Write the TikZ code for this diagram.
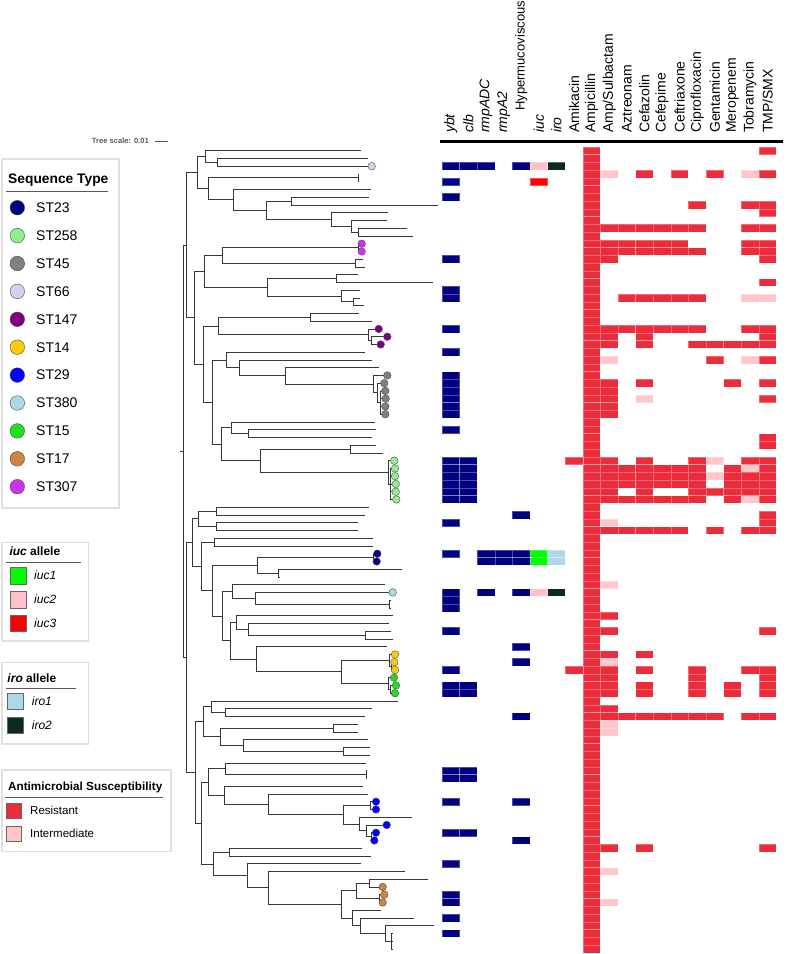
\documentclass[tikz,border=0pt]{standalone}
\usepackage{fontspec}
\setmainfont{Liberation Sans}
\usetikzlibrary{calc,positioning}

% heatmap colours
\definecolor{vir}{HTML}{000080}
\definecolor{res}{HTML}{EC2B3B}
\definecolor{intm}{HTML}{FFC6CB}
\definecolor{iucone}{HTML}{00FF00}
\definecolor{iuctwo}{HTML}{FFC0CB}
\definecolor{iucthree}{HTML}{FF0000}
\definecolor{iroone}{HTML}{ADD8E6}
\definecolor{irotwo}{HTML}{0B2B1E}
% sequence types
\definecolor{st23}{HTML}{000080}
\definecolor{st258}{HTML}{90EE90}
\definecolor{st45}{HTML}{808080}
\definecolor{st66}{HTML}{D2D2EE}
\definecolor{st147}{HTML}{800080}
\definecolor{st14}{HTML}{FFC90E}
\definecolor{st29}{HTML}{0000FF}
\definecolor{st380}{HTML}{ADD8E6}
\definecolor{st15}{HTML}{22DD22}
\definecolor{st17}{HTML}{CD853F}
\definecolor{st307}{HTML}{CC33EE}

% inner node of the tree: name, x, first child, last child
\newcommand{\clade}[4]{\path let \p1=(#3), \p2=(#4) in (#2pt,{(\y1+\y2)/2}) coordinate (#1);}

\begin{document}
\begin{tikzpicture}[
    x=1pt, y=-1pt,
    branch/.style={draw=black!78, line width=0.9pt},
    tipdot/.style={circle, draw=black!70, line width=0.4pt, inner sep=0pt, minimum size=7.6pt},
    hcell/.style={draw=white, draw opacity=0.3, line width=0.3pt},
    colhead/.style={rotate=90, anchor=west, inner sep=0pt, font=\fontsize{14}{16}\selectfont},
    keybox/.style={draw=black!12, line width=1.5pt, inner sep=0pt, anchor=north west},
    keytitle/.style={anchor=west, inner sep=0pt, font=\bfseries},
    keyrule/.style={draw=black!65, line width=1.1pt},
    keytext/.style={anchor=west, inner sep=0pt},
    keysq/.style={draw=black!60, line width=0.6pt, inner sep=0pt}
]
\useasboundingbox (0,0) rectangle (786,954);

% ---- legends ----
\node[keybox, minimum width=117pt, minimum height=349pt] (stkey) at (1,158.3) {};
\node[keytitle, font=\fontsize{13.8}{16}\selectfont\bfseries] (sttitle) at (8,180) {Sequence Type};
\draw[keyrule] (6,191.7) -- (108,191.7);
\foreach \n/\k [count=\i from 0] in {ST23/st23, ST258/st258, ST45/st45, ST66/st66, ST147/st147, ST14/st14, ST29/st29, ST380/st380, ST15/st15, ST17/st17, ST307/st307} {
    \node[tipdot, minimum size=14.6pt, fill=\k] (stdot\i) at (17.3,{207.7+27.9*\i}) {};
    \node[keytext, font=\fontsize{14}{16}\selectfont] (stlab\i) at (36,{207.7+27.9*\i}) {\n};
}

\node[keybox, minimum width=86.7pt, minimum height=98.3pt] (iuckey) at (1,541.7) {};
\node[keytitle, font=\fontsize{12}{14}\selectfont\bfseries] (iuctitle) at (9.3,551) {\textit{iuc} allele};
\draw[keyrule] (6,562.3) -- (80.7,562.3);
\foreach \n/\k [count=\i from 0] in {iuc1/iucone, iuc2/iuctwo, iuc3/iucthree} {
    \node[keysq, minimum size=16.7pt, fill=\k] (iucsq\i) at (18.3,{575.7+23.8*\i}) {};
    \node[keytext, font=\fontsize{12}{14}\selectfont\itshape] (iuclab\i) at (34,{575.7+23.8*\i}) {\n};
}

\node[keybox, minimum width=86.7pt, minimum height=81.6pt] (irokey) at (1,661.7) {};
\node[keytitle, font=\fontsize{12}{14}\selectfont\bfseries] (irotitle) at (7.3,678.3) {\textit{iro} allele};
\draw[keyrule] (6,688.3) -- (75.7,688.3);
\foreach \n/\k [count=\i from 0] in {iro1/iroone, iro2/irotwo} {
    \node[keysq, minimum size=16pt, fill=\k] (irosq\i) at (15.3,{701.7+24*\i}) {};
    \node[keytext, font=\fontsize{12}{14}\selectfont\itshape] (irolab\i) at (31.7,{701.7+24*\i}) {\n};
}

\node[keybox, minimum width=169pt, minimum height=81.4pt] (amrkey) at (1,769.3) {};
\node[keytitle, font=\fontsize{11.7}{14}\selectfont\bfseries] (amrtitle) at (8,787.3) {Antimicrobial Susceptibility};
\draw[keyrule] (5,797.7) -- (163,797.7);
\foreach \n/\k [count=\i from 0] in {Resistant/res, Intermediate/intm} {
    \node[keysq, minimum size=15pt, fill=\k] (amrsq\i) at (13.5,{810.5+23*\i}) {};
    \node[keytext, font=\fontsize{11.5}{14}\selectfont] (amrlab\i) at (30,{810.5+23*\i}) {\n};
}

% ---- tree scale ----
\node[anchor=east, inner sep=0pt, text=black!65, font=\fontsize{7.6}{9}\selectfont\bfseries] (scaletxt) at (149,141) {Tree scale: 0.01};
\coordinate[right=6pt of scaletxt.east] (scalea);
\coordinate[right=13pt of scalea] (scaleb);
\draw[black!65, line width=0.8pt] (scalea) -- (scaleb);

% ---- tree: leaf tips ----
\foreach \row/\tx in {0/360.7, 1/367.7, 2/371.7, 3/359, 4/359, 5/371, 6/369.3, 7/438.3, 8/387.7, 9/387.3,
    10/407, 11/413.3, 12/361.7, 13/361.7, 14/362.7, 15/365, 16/358.3, 17/432.7, 18/360, 19/360,
    20/364.3, 21/358.7, 22/371.7, 23/378.7, 24/387.3, 25/380.7, 26/365.3, 27/372, 28/378.7, 29/387.3,
    30/384.3, 31/385.3, 32/385.7, 33/385.3, 34/385.3, 35/375, 36/375.7, 37/371.7, 38/375.7, 39/383.3,
    40/394.3, 41/395, 42/395, 43/395.7, 44/395.7, 45/396.3, 46/369.3, 47/365.3, 48/358.3, 49/357.7,
    50/372.7, 51/372.7, 52/377.3, 53/376.7, 54/402.3, 55/279.5, 56/385.3, 57/392.7, 58/390.3, 59/390.3,
    60/392.7, 61/389.3, 62/390.7, 63/393.3, 64/386.7, 65/395, 66/394.3, 67/395, 68/394, 69/396,
    70/395, 71/398.3, 72/371.7, 73/365, 74/357.7, 75/357.7, 76/367.7, 77/370, 78/370, 79/366,
    80/366.7, 81/366.7, 82/362.7, 83/368.3, 84/376, 85/376, 86/411.7, 87/386.7, 88/376, 89/374.3,
    90/361.7, 91/370.7, 92/361, 93/405, 94/428.3, 95/382.7, 96/384.3, 97/382.7, 98/380.7, 99/414,
    100/434, 101/393, 102/393, 103/393}
    \coordinate (l\row) at (\tx,{150.7+7.75*\row});

% ---- tree: inner nodes ----
\clade{a1}{217.7}{l1}{l2}   \clade{a2}{205}{l0}{a1}
\clade{a3}{358.7}{l10}{l11} \clade{a4}{351}{l9}{a3}   \clade{a5}{331}{l8}{a4}
\clade{a6}{291.7}{l6}{l7}   \clade{a7}{266}{a6}{a5}   \clade{a8}{233.3}{l5}{a7}
\clade{a9}{358.3}{l3}{l4}   \clade{a10}{208}{a9}{a8}  \clade{A}{197.7}{a2}{a10}
\clade{b1}{358}{l12}{l13}   \clade{b2}{355.7}{l14}{l15} \clade{b3}{222.7}{b1}{b2}
\clade{b4}{336}{l16}{l17}   \clade{b5}{353.7}{l19}{l20} \clade{b6}{341}{l18}{b5}
\clade{b7}{267.7}{b4}{b6}   \clade{b8}{204.3}{b3}{b7}
\clade{c1}{310.3}{l21}{l22} \clade{c2}{371.7}{l24}{l25} \clade{c3}{368}{l23}{c2}
\clade{c4}{218.7}{c1}{c3}
\clade{d0}{380}{l31}{l34}   \clade{d1a}{377.7}{l30}{d0} \clade{d1}{373.3}{l29}{d1a}
\clade{d2}{285.7}{l28}{d1}  \clade{d3}{239.3}{l27}{d2}  \clade{d4}{226}{l26}{d3}
\clade{e1}{248.3}{l36}{l37} \clade{e2}{231.7}{l35}{e1}  \clade{e3}{350}{l38}{l39}
\clade{e4a}{390.5}{l41}{l45} \clade{e4}{388}{l40}{e4a} \clade{e5}{260}{e3}{e4}
\clade{e6}{221}{e2}{e5}     \clade{e7}{212.7}{d4}{e6}
\clade{C}{203.3}{c4}{e7}    \clade{B}{194.3}{b8}{C}     \clade{U}{186.7}{A}{B}
\clade{f1}{216.7}{l46}{l47} \clade{f2}{216}{l48}{l49}   \clade{f3}{198.7}{f1}{f2}
\clade{g1}{214}{l50}{l51}   \clade{g2}{373.3}{l52}{l53} \clade{g3}{278.7}{l54}{l55}
\clade{g4}{257.3}{g2}{g3}
\clade{h1}{389.7}{l58}{l59} \clade{h2}{255.7}{l57}{h1}  \clade{h3}{232.3}{l56}{h2}
\clade{i1}{365}{l62}{l63}   \clade{i2}{248.7}{l61}{i1}  \clade{i3}{236.7}{l60}{i2}
\clade{i4a}{391}{l66}{l67}  \clade{i4}{389.3}{l65}{i4a}
\clade{i5a}{390.5}{l69}{l70} \clade{i5}{388.3}{l68}{i5a}
\clade{i6}{341.7}{i4}{i5}   \clade{i7}{256.7}{l64}{i6}  \clade{i8}{230}{i3}{i7}
\clade{h4}{222.7}{h3}{i8}   \clade{g5}{212.3}{g4}{h4}   \clade{g6}{201}{g1}{g5}
\clade{F}{192.3}{f3}{g6}
\clade{j1}{225}{l72}{l73}   \clade{j2}{211.7}{l71}{j1}  \clade{j3}{333.3}{l74}{l75}
\clade{j4}{343.3}{l77}{l78} \clade{j5}{243.3}{l76}{j4}  \clade{j6}{220}{j3}{j5}
\clade{j7}{203.3}{j2}{j6}
\clade{k1}{366}{l80}{l81}   \clade{k2}{225.3}{l79}{k1}  \clade{k3}{370}{l84}{l85}
\clade{k4}{371.3}{l88}{l89} \clade{k5}{366.7}{l87}{k4}  \clade{k6}{359}{l86}{k5}
\clade{k7}{343.3}{k3}{k6}   \clade{k8}{268.3}{l83}{k7}  \clade{k9}{224.3}{l82}{k8}
\clade{k10}{208.7}{k2}{k9}
\clade{m1}{229.3}{l90}{l91}
\clade{p1}{369}{l94}{l95}   \clade{p2}{379}{l96}{l97}   \clade{p3}{356.7}{p1}{p2}
\clade{q1}{391.7}{l101}{l103} \clade{q2}{385}{l100}{q1} \clade{q3}{360}{l99}{q2}
\clade{q4}{352.7}{l98}{q3}  \clade{p4}{341}{p3}{q4}
\clade{p5}{268.7}{l93}{p4}  \clade{p6}{247.7}{l92}{p5}  \clade{m9}{213.3}{m1}{p6}
\clade{n1}{201.7}{k10}{m9}  \clade{V}{195.7}{j7}{n1}    \clade{W}{186.7}{F}{V}
\clade{root}{183.3}{U}{W}

% ---- tree: branches ----
\foreach \pa/\ch in {a1/l1, a1/l2, a2/l0, a2/a1, a3/l10, a3/l11, a4/l9, a4/a3, a5/l8, a5/a4,
    a6/l6, a6/l7, a7/a6, a7/a5, a8/l5, a8/a7, a9/l3, a9/l4, a10/a9, a10/a8, A/a2, A/a10,
    b1/l12, b1/l13, b2/l14, b2/l15, b3/b1, b3/b2, b4/l16, b4/l17, b5/l19, b5/l20, b6/l18, b6/b5,
    b7/b4, b7/b6, b8/b3, b8/b7,
    c1/l21, c1/l22, c2/l24, c2/l25, c3/l23, c3/c2, c4/c1, c4/c3,
    d0/l31, d0/l32, d0/l33, d0/l34, d1a/l30, d1a/d0, d1/l29, d1/d1a, d2/l28, d2/d1,
    d3/l27, d3/d2, d4/l26, d4/d3,
    e1/l36, e1/l37, e2/l35, e2/e1, e3/l38, e3/l39, e4a/l41, e4a/l42, e4a/l43, e4a/l44, e4a/l45,
    e4/l40, e4/e4a, e5/e3, e5/e4, e6/e2, e6/e5, e7/d4, e7/e6, C/c4, C/e7, B/b8, B/C, U/A, U/B,
    f1/l46, f1/l47, f2/l48, f2/l49, f3/f1, f3/f2, g1/l50, g1/l51, g2/l52, g2/l53, g3/l54, g3/l55,
    g4/g2, g4/g3, h1/l58, h1/l59, h2/l57, h2/h1, h3/l56, h3/h2, i1/l62, i1/l63, i2/l61, i2/i1,
    i3/l60, i3/i2, i4a/l66, i4a/l67, i4/l65, i4/i4a, i5a/l69, i5a/l70, i5/l68, i5/i5a,
    i6/i4, i6/i5, i7/l64, i7/i6, i8/i3, i8/i7, h4/h3, h4/i8, g5/g4, g5/h4, g6/g1, g6/g5,
    F/f3, F/g6,
    j1/l72, j1/l73, j2/l71, j2/j1, j3/l74, j3/l75, j4/l77, j4/l78, j5/l76, j5/j4, j6/j3, j6/j5,
    j7/j2, j7/j6,
    k1/l80, k1/l81, k2/l79, k2/k1, k3/l84, k3/l85, k4/l88, k4/l89, k5/l87, k5/k4, k6/l86, k6/k5,
    k7/k3, k7/k6, k8/l83, k8/k7, k9/l82, k9/k8, k10/k2, k10/k9,
    m1/l90, m1/l91, p1/l94, p1/l95, p2/l96, p2/l97, p3/p1, p3/p2, q1/l101, q1/l102, q1/l103,
    q2/l100, q2/q1, q3/l99, q3/q2, q4/l98, q4/q3, p4/p3, p4/q4, p5/l93, p5/p4, p6/l92, p6/p5,
    m9/m1, m9/p6, n1/k10, n1/m9, V/j7, V/n1, W/F, W/V, root/U, root/W}
    \draw[branch] (\pa) |- (\ch);
\coordinate[left=3.3pt of root] (rootstub);
\draw[branch] (rootstub) -- (root);

% ---- sequence type dots on tips ----
\foreach \row/\k in {2/st66, 12/st307, 13/st307, 23/st147, 24/st147, 25/st147,
    29/st45, 30/st45, 31/st45, 32/st45, 33/st45, 34/st45,
    40/st258, 41/st258, 42/st258, 43/st258, 44/st258, 45/st258, 52/st23, 53/st23, 57/st380,
    65/st14, 66/st14, 67/st14, 68/st15, 69/st15, 70/st15,
    84/st29, 85/st29, 87/st29, 88/st29, 89/st29, 95/st17, 96/st17, 97/st17}
    \node[tipdot, fill=\k] (dot\row) at (l\row) {};

% ---- column headers ----
\foreach \t/\yb [count=\i from 0] in {\textit{ybt}/133, \textit{clb}/133, \textit{rmpADC}/133,
    \textit{rmpA2}/133, {\fontsize{13}{15}\selectfont Hypermucoviscous}/111, \textit{iuc}/133,
    \textit{iro}/133, Amikacin/133, Ampicillin/133, {Amp/Sulbactam}/133, Aztreonam/133,
    Cefazolin/133, Cefepime/133, Ceftriaxone/133, Ciprofloxacin/133, Gentamicin/133,
    Meropenem/133, Tobramycin/133, {TMP/SMX}/133}
    \node[colhead] (head\i) at ({450.8+17.6*\i},\yb) {\t};
\draw[line width=2.6pt] (440,141.6) -- (783,141.6);

% ---- heatmap ----
\foreach \row in {0,...,103}
    \filldraw[hcell, fill=res] ({442+17.6*8},{146.83+7.75*\row}) rectangle ++(17.6,7.75);
\foreach \row/\ca/\cb/\k in {0/18/18/res,
    2/0/2/vir, 2/4/4/vir, 2/5/5/iuctwo, 2/6/6/irotwo,
    3/9/9/intm, 3/11/11/res, 3/13/13/res, 3/15/15/res, 3/17/17/intm, 3/18/18/res,
    4/0/0/vir, 4/5/5/iucthree, 6/0/0/vir,
    7/14/14/res, 7/17/18/res, 8/18/18/res,
    10/9/14/res, 10/17/18/res, 12/9/13/res, 12/17/18/res, 13/9/14/res, 13/17/18/res,
    14/0/0/vir, 14/9/9/res, 14/18/18/res, 17/18/18/res, 18/0/0/vir,
    19/0/0/vir, 19/10/14/res, 19/17/18/intm,
    23/0/0/vir, 23/9/14/res, 23/17/18/res,
    24/9/9/res, 24/11/11/res, 24/18/18/res, 25/9/9/res, 25/11/11/res, 25/14/18/res,
    26/0/0/vir, 27/9/9/intm, 27/15/15/res, 27/17/17/intm, 27/18/18/res,
    29/0/0/vir, 30/0/0/vir, 30/9/9/res, 30/11/11/res, 30/16/16/res, 30/18/18/res,
    31/0/0/vir, 31/9/9/res, 32/0/0/vir, 32/9/9/res, 32/11/11/intm, 32/18/18/res,
    33/0/0/vir, 33/9/9/res, 34/0/0/vir, 34/9/9/res,
    36/0/0/vir, 37/18/18/res, 38/18/18/res,
    40/0/1/vir, 40/7/7/res, 40/9/9/res, 40/11/11/res, 40/14/14/res, 40/15/15/intm, 40/17/18/res,
    41/0/1/vir, 41/9/14/res, 41/16/16/res, 41/17/17/intm, 41/18/18/res,
    42/0/1/vir, 42/9/14/res, 42/15/15/intm, 42/16/18/res,
    43/0/1/vir, 43/9/14/res, 43/16/18/res,
    44/0/1/vir, 44/9/9/res, 44/11/11/res, 44/14/18/res,
    45/0/1/vir, 45/9/14/res, 45/16/16/res, 45/17/17/intm, 45/18/18/res,
    47/4/4/vir, 47/18/18/res, 48/0/0/vir, 48/9/9/intm, 48/18/18/res,
    49/9/13/res, 49/15/15/res, 49/17/18/res,
    52/0/0/vir, 52/2/4/vir, 52/5/5/iucone, 52/6/6/iroone,
    53/2/4/vir, 53/5/5/iucone, 53/6/6/iroone, 56/9/9/intm,
    57/0/0/vir, 57/2/2/vir, 57/4/4/vir, 57/5/5/iuctwo, 57/6/6/irotwo,
    58/0/0/vir, 59/0/0/vir, 60/9/9/res, 62/0/0/vir, 62/9/9/res, 62/18/18/res,
    64/4/4/vir, 65/9/9/res, 65/11/11/res, 66/4/4/vir, 66/9/9/intm,
    67/0/0/vir, 67/7/7/res, 67/9/9/res, 67/11/11/res, 67/14/14/res, 67/17/18/res,
    68/9/9/res, 68/14/14/res, 68/18/18/res,
    69/0/1/vir, 69/9/9/res, 69/11/11/res, 69/14/14/res, 69/16/16/res, 69/18/18/res,
    70/0/1/vir, 70/9/9/res, 70/11/11/res, 70/14/14/res, 70/16/16/res, 70/18/18/res,
    72/9/9/res, 73/4/4/vir, 73/9/15/res, 73/17/18/res, 74/9/9/intm, 75/9/9/intm,
    80/0/1/vir, 81/0/1/vir, 84/0/0/vir, 84/4/4/vir, 88/0/1/vir, 89/4/4/vir,
    90/9/9/res, 90/11/11/res, 90/18/18/res, 92/0/0/vir, 93/9/9/intm,
    96/0/0/vir, 97/0/0/vir, 97/9/9/intm, 99/0/0/vir, 101/0/0/vir}
    \foreach \col in {\ca,...,\cb}
        \filldraw[hcell, fill=\k] ({442+17.6*\col},{146.83+7.75*\row}) rectangle ++(17.6,7.75);
\end{tikzpicture}
\end{document}
